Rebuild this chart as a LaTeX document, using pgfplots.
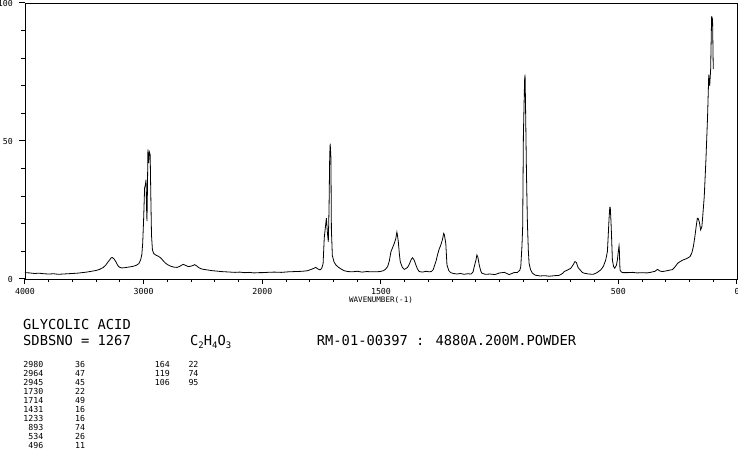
\documentclass[border=0pt]{standalone}
\usepackage{pgfplots}
\pgfplotsset{compat=1.18}
\usepackage{fontspec}
\setmainfont{DejaVu Sans Mono}
\begin{document}
\begin{tikzpicture}
\useasboundingbox (0,0) rectangle (738bp,457bp);
\begin{axis}[
  at={(25bp,178bp)}, anchor=south west,
  width=712bp, height=276bp, scale only axis,
  x dir=reverse,
  xmin=0, xmax=3000, ymin=0, ymax=100,
  x filter/.expression={min(x,2000)+max(x-2000,0)/2},
  xtick={0,500,1500,2000,2500,3000},
  xticklabels={0,500,1500,2000,3000,4000},
  minor xtick={100,200,...,2900},
  ytick={0,50,100},
  minor ytick={10,20,...,90},
  tick align=outside,
  xtick pos=left, ytick pos=left,
  major tick length=5.5bp, minor tick length=3.5bp,
  tick style={draw=black, line width=1bp},
  axis line style={black, line width=0.8bp},
  /pgf/number format/assume math mode=true,
  tick label style={font=\fontsize{8.3}{9}\selectfont, inner sep=0pt},
  xticklabel style={anchor=north, yshift=-4bp},
  yticklabel style={anchor=east, xshift=-6.5bp},
  xlabel={WAVENUMBER(-1)},
  every axis x label/.style={at={(rel axis cs:0.5,0)}, anchor=north, yshift=-18bp, inner sep=0pt, font=\fontsize{7.6}{8}\selectfont},
]
\addplot[black, line width=0.8bp, mark=none] table[x index=0, y index=1] {
4000 2.3
3960 2.2
3920 2.0
3880 2.1
3840 1.9
3800 1.8
3760 1.9
3720 1.7
3680 1.8
3640 1.9
3600 2.0
3560 2.1
3520 2.3
3480 2.5
3440 2.8
3400 3.1
3370 3.5
3340 4.2
3320 5.0
3300 6.2
3285 7.0
3275 7.6
3265 7.8
3250 7.3
3235 6.3
3220 5.0
3205 4.3
3185 4.0
3160 4.1
3130 4.3
3100 4.5
3080 4.7
3060 5.0
3040 5.6
3025 7.0
3015 9.0
3008 13
3000 22
2992 33
2986 34
2980 36
2975 25
2972 21
2968 33
2964 47
2958 42
2952 46
2945 45
2940 31
2934 16
2926 10.5
2915 9.2
2895 8.6
2875 8.2
2855 7.6
2835 6.6
2815 5.7
2795 5.1
2770 4.6
2745 4.3
2720 4.2
2700 4.5
2680 5.0
2665 5.3
2645 4.9
2625 4.5
2605 4.6
2585 4.9
2570 5.2
2555 4.8
2535 4.1
2510 3.6
2480 3.4
2450 3.2
2420 3.0
2390 2.9
2350 2.7
2310 2.6
2270 2.5
2230 2.4
2190 2.5
2150 2.3
2110 2.4
2070 2.2
2030 2.3
2000 2.3
1980 2.4
1950 2.5
1920 2.4
1890 2.6
1860 2.7
1830 2.8
1810 3.0
1790 3.6
1775 4.2
1765 3.6
1757 3.3
1750 3.8
1744 5.5
1739 15
1734 19
1730 22
1726 17
1722 13.5
1719 25
1716 45
1714 49
1711 44
1709 18
1705 8.5
1698 6.2
1690 5.1
1680 4.3
1668 3.6
1655 3.0
1640 2.7
1620 2.6
1600 2.8
1580 2.5
1560 2.7
1540 2.6
1520 2.6
1505 2.7
1490 3.0
1480 3.6
1472 4.5
1465 6.5
1458 9.9
1450 11.6
1444 12.9
1438 14.5
1433 17
1431 16
1427 13.5
1423 9.5
1419 6.3
1410 4.2
1402 3.5
1395 3.8
1388 4.2
1380 5.5
1372 7.2
1367 7.7
1360 6.8
1353 5.1
1346 3.6
1339 2.7
1325 2.5
1310 2.8
1298 2.6
1288 2.7
1280 3.4
1276 4.5
1268 6.5
1262 8.7
1255 10.8
1248 12.3
1241 14.3
1236 16.5
1233 16
1227 12.9
1222 5.1
1214 3.0
1206 2.3
1195 2.0
1180 1.8
1165 2.0
1150 1.7
1135 1.9
1120 1.8
1112 2.6
1107 4.5
1100 6.8
1096 8.7
1092 8.0
1086 5.1
1080 3.0
1075 2.1
1060 1.7
1040 1.8
1020 1.6
1000 2.2
980 2.4
960 1.6
940 2.3
925 2.4
915 3.2
911 4.5
906 12
903 19
900 52
895 72
893 74
891 63
887 38
883 20
879 10
876 5.7
870 3.4
862 2.1
850 1.4
830 1.1
810 1.2
790 1.0
770 1.2
750 1.3
735 2.0
728 2.7
715 3.2
700 3.9
690 5.2
683 6.3
677 6.0
670 4.2
661 3.3
652 2.4
644 2.1
625 1.8
605 1.7
590 2.3
574 3.3
563 4.6
553 6.9
546 10
543 15
539 22
536 26
534 26
531 21
529 16.5
525 6.9
520 4.5
515 3.9
508 5.0
504 6.9
500 10
497 12
496 11
493 3.3
487 2.5
480 2.3
460 2.3
440 2.4
420 2.2
400 2.3
380 2.2
365 2.4
345 2.8
335 3.5
325 2.9
315 2.7
300 2.9
285 3.2
272 3.4
262 4.3
250 5.7
238 6.4
227 6.9
212 7.4
198 8.1
190 9.5
184 11.7
178 15
172 19
167 22
164 22
159 20.8
153 17.8
148 19
145 22
138 29.8
131 43
124 58.8
119 74
115 70
111 76
107 95
106 95
103 94
100 76
};
\end{axis}
\begin{scope}[every node/.style={inner sep=0pt}]
\node[anchor=base west, font=\fontsize{13.8}{16}\selectfont] at (23bp,127bp) {GLYCOLIC ACID};
\node[anchor=base west, font=\fontsize{13.8}{16}\selectfont] at (23bp,111bp) {SDBSNO = 1267};
\node[anchor=base west, font=\fontsize{13.8}{16}\selectfont] at (190bp,111bp) {C\raisebox{-2.5bp}{\fontsize{9}{9}\selectfont 2}H\raisebox{-2.5bp}{\fontsize{9}{9}\selectfont 4}O\raisebox{-2.5bp}{\fontsize{9}{9}\selectfont 3}};
\node[anchor=base west, font=\fontsize{13.8}{16}\selectfont] at (316.7bp,111bp) {RM-01-00397 : 4880A.200M.POWDER};
\begin{scope}[every node/.append style={font=\fontsize{8.3}{9}\selectfont}]
\node[anchor=base east] at (43.5bp,89.3bp) {2980}; \node[anchor=base west] at (75bp,89.3bp) {36};
\node[anchor=base east] at (43.5bp,80.34bp) {2964}; \node[anchor=base west] at (75bp,80.34bp) {47};
\node[anchor=base east] at (43.5bp,71.38bp) {2945}; \node[anchor=base west] at (75bp,71.38bp) {45};
\node[anchor=base east] at (43.5bp,62.42bp) {1730}; \node[anchor=base west] at (75bp,62.42bp) {22};
\node[anchor=base east] at (43.5bp,53.46bp) {1714}; \node[anchor=base west] at (75bp,53.46bp) {49};
\node[anchor=base east] at (43.5bp,44.5bp) {1431}; \node[anchor=base west] at (75bp,44.5bp) {16};
\node[anchor=base east] at (43.5bp,35.54bp) {1233}; \node[anchor=base west] at (75bp,35.54bp) {16};
\node[anchor=base east] at (43.5bp,26.58bp) {893}; \node[anchor=base west] at (75bp,26.58bp) {74};
\node[anchor=base east] at (43.5bp,17.62bp) {534}; \node[anchor=base west] at (75bp,17.62bp) {26};
\node[anchor=base east] at (43.5bp,8.66bp) {496}; \node[anchor=base west] at (75bp,8.66bp) {11};
\node[anchor=base east] at (170bp,89.3bp) {164}; \node[anchor=base west] at (188.3bp,89.3bp) {22};
\node[anchor=base east] at (170bp,80.34bp) {119}; \node[anchor=base west] at (188.3bp,80.34bp) {74};
\node[anchor=base east] at (170bp,71.38bp) {106}; \node[anchor=base west] at (188.3bp,71.38bp) {95};
\end{scope}
\end{scope}
\end{tikzpicture}
\end{document}
